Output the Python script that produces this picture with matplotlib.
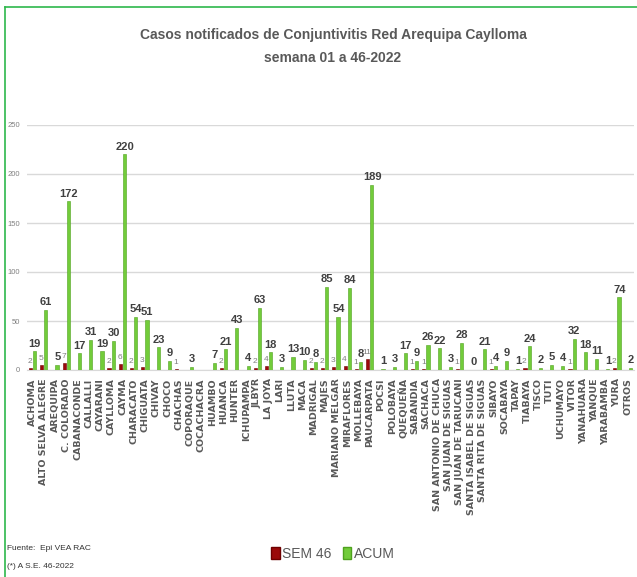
import numpy as np
import matplotlib
matplotlib.use("Agg")
import matplotlib.pyplot as plt
from matplotlib.lines import Line2D
from matplotlib.patches import Patch

nan = np.nan
categories = ["ACHOMA", "ALTO SELVA ALEGRE", "AREQUIPA", "C. COLORADO", "CABANACONDE",
              "CALLALLI", "CAYARANI", "CAYLLOMA", "CAYMA", "CHARACATO", "CHIGUATA",
              "CHIVAY", "CHOCO", "CHACHAS", "COPORAQUE", "COCACHACRA", "HUAMBO", "HUANCA",
              "HUNTER", "ICHUPAMPA", "JLBYR", "LA JOYA", "LARI", "LLUTA", "MACA",
              "MADRIGAL", "MAJES", "MARIANO MELGAR", "MIRAFLORES", "MOLLEBAYA",
              "PAUCARPATA", "POCSI", "POLOBAYA", "QUEQUEÑA", "SABANDIA", "SACHACA",
              "SAN ANTONIO DE CHUCA", "SAN JUAN DE SIGUAS", "SAN JUAN DE TARUCANI",
              "SANTA ISABEL DE SIGUAS", "SANTA RITA DE SIGUAS", "SIBAYO", "SOCABAYA",
              "TAPAY", "TIABAYA", "TISCO", "TUTI", "UCHUMAYO", "VITOR", "YANAHUARA",
              "YANQUE", "YARABAMBA", "YURA", "OTROS"]
sem46 = [2, 5, nan, 7, nan, nan, nan, 2, 6, 2, 3, nan, nan, 1, nan, nan, nan, 2,
         nan, nan, 2, 4, nan, nan, nan, 2, 2, 3, 4, 1, 11, nan, nan, nan, 1, 1,
         nan, nan, 1, nan, nan, 1, nan, nan, 2, nan, nan, nan, 1, nan, nan, nan, 2, nan]
acum = [19, 61, 5, 172, 17, 31, 19, 30, 220, 54, 51, 23, 9, nan, 3, nan, 7, 21,
        43, 4, 63, 18, 3, 13, 10, 8, 85, 54, 84, 8, 189, 1, 3, 17, 9, 26,
        22, 3, 28, 0, 21, 4, 9, 1, 24, 2, 5, 4, 32, 18, 11, 1, 74, 2]
yticks = [0, 50, 100, 150, 200, 250]

narrow = ["Liberation Sans Narrow", "Liberation Sans", "DejaVu Sans"]

W, H = 637, 577
fig = plt.figure(figsize=(W / 100, H / 100), dpi=100)
ax = fig.add_axes([27 / W, 1 - 370 / H, (634 - 27) / W, 245 / H])

x = np.arange(len(categories))
s = np.array(sem46, dtype=float)
a = np.array(acum, dtype=float)
red = "#9B0A0A"
green = "#72CC3A"
ax.bar(x - 0.2, np.nan_to_num(s), width=0.28, color=red, edgecolor="#6E0000", linewidth=0.4, zorder=3)
ax.bar(x + 0.17, np.nan_to_num(a), width=0.28, color=green, edgecolor="#4FA21E", linewidth=0.4, zorder=3)

for xi, v in zip(x, s):
    if not np.isnan(v):
        ax.annotate(f"{int(v)}", (xi - 0.25, v), xytext=(0, 2), textcoords="offset points",
                    ha="center", va="bottom", fontsize=6, color="#7F7F7F", family=narrow)
for xi, v in zip(x, a):
    if not np.isnan(v):
        ax.annotate(f"{int(v)}", (xi + 0.2, v), xytext=(0, 2), textcoords="offset points",
                    ha="center", va="bottom", fontsize=8, fontweight="bold", color="#404040",
                    family=narrow)

ax.set_xlim(-0.5, len(categories) - 0.5)
ax.set_ylim(0, 250)
ax.set_yticks(yticks)
ax.set_yticklabels([str(t) for t in yticks], fontsize=5.5, color="#808080", family=narrow)
ax.yaxis.grid(True, color="#D9D9D9", linewidth=1.0, zorder=0)
ax.set_axisbelow(True)
ax.tick_params(axis="y", length=0, pad=5)
ax.tick_params(axis="x", length=0, pad=6)
ax.set_xticks(x)
ax.set_xticklabels(categories, rotation=90, fontsize=6.8, fontweight="bold",
                   color="#595959", family="DejaVu Sans", va="top", ha="center")
for sp in ax.spines.values():
    sp.set_visible(False)
ax.spines["bottom"].set_visible(True)
ax.spines["bottom"].set_color("#D9D9D9")

fig.text(333 / W, 1 - 35 / H, "Casos notificados de Conjuntivitis Red Arequipa Caylloma",
         ha="center", va="center", fontsize=10, fontweight="bold", color="#595959", family=narrow)
fig.text(333 / W, 1 - 58 / H, "semana 01 a 46-2022",
         ha="center", va="center", fontsize=10, fontweight="bold", color="#595959", family=narrow)

fig.text(7 / W, 1 - 549 / H, "Fuente:  Epi VEA RAC", ha="left", va="center", fontsize=6,
         color="#333333", family=narrow)
fig.text(7 / W, 1 - 566 / H, "(*) A S.E. 46-2022", ha="left", va="center", fontsize=6,
         color="#333333", family=narrow)

handles = [Patch(facecolor=red, edgecolor="#6E0000"), Patch(facecolor=green, edgecolor="#4FA21E")]
fig.legend(handles, ["SEM 46", "ACUM"], loc="center", bbox_to_anchor=(333 / W, 1 - 554 / H),
           ncol=2, frameon=False, prop={"family": narrow, "size": 10},
           handlelength=0.6, handleheight=0.9, handletextpad=0.2, columnspacing=0.8,
           labelcolor="#595959")

# green border (top and left)
fig.add_artist(Line2D([5 / W, 1], [1 - 7 / H, 1 - 7 / H], color="#2EB84C", linewidth=1.2,
                      transform=fig.transFigure))
fig.add_artist(Line2D([5 / W, 5 / W], [0, 1 - 7 / H], color="#2EB84C", linewidth=1.2,
                      transform=fig.transFigure))

fig.savefig("out.png", dpi=100)
